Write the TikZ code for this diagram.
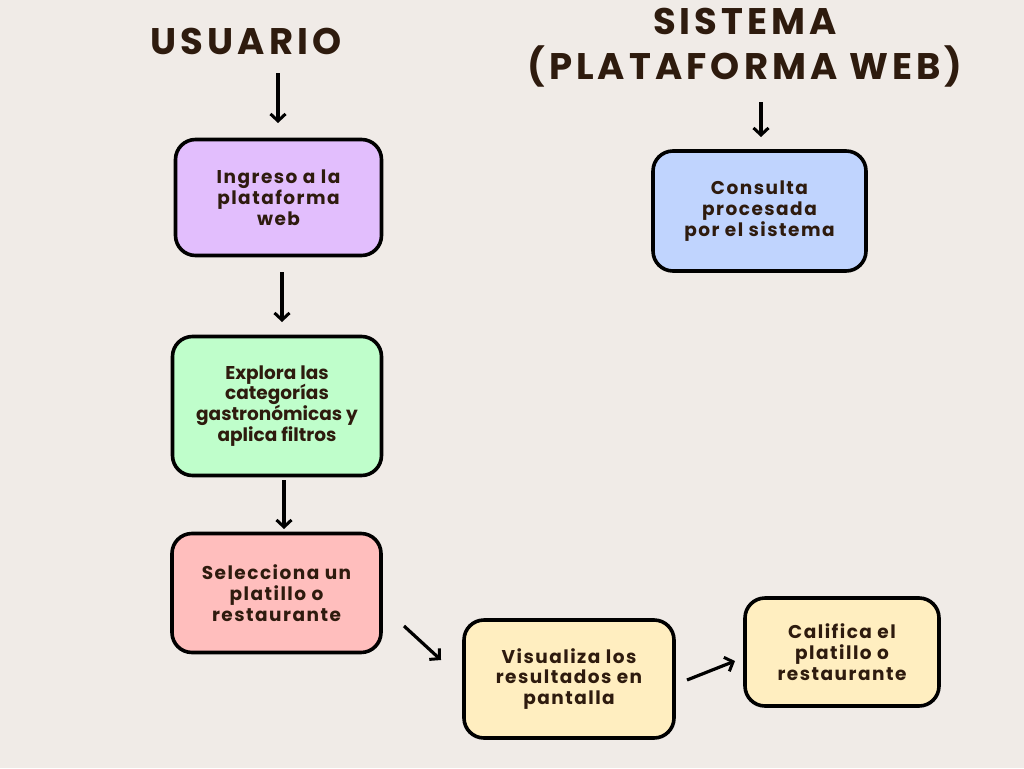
\documentclass[tikz,border=0pt]{standalone}
\usepackage{fontspec}
\setmainfont{Poppins}
\newfontfamily\headfont{Poppins}[LetterSpace=11]
\newfontfamily\boxfont{Poppins}[LetterSpace=8]
\newfontfamily\boxfontn{Poppins}
\usetikzlibrary{arrows.meta}
\definecolor{bgc}{HTML}{F0EBE7}
\definecolor{txt}{HTML}{2E1B0E}
\definecolor{cpur}{HTML}{E2BEFD}
\definecolor{cgrn}{HTML}{BFFECB}
\definecolor{cpnk}{HTML}{FFBEBD}
\definecolor{cyel}{HTML}{FFEEC0}
\definecolor{cblu}{HTML}{C0D4FE}
\tikzset{
  head/.style={text=txt, font=\headfont\bfseries\fontsize{37}{44}\selectfont, align=center, inner sep=0pt},
  box/.style={draw=black, line width=3.6pt, rounded corners=20pt, align=center, text=txt,
    font=\boxfont\bfseries\fontsize{18.5}{20.8}\selectfont, inner sep=0pt},
  arr/.style={line width=3.2pt, -{Straight Barb[length=7pt,width=15pt,line width=3pt]}}
}
\begin{document}
\begin{tikzpicture}[x=1pt,y=-1pt]
\fill[bgc] (0,0) rectangle (1024,768);
\useasboundingbox (0,0) rectangle (1024,768);
% headings
\node[head] (hu) at (246,41) {USUARIO};
\node[head] (hs1) at (745,21) {SISTEMA};
\node[head] (hs2) at (745,66) {(PLATAFORMA WEB)};
% boxes
\node[box, fill=cpur, minimum width=206pt, minimum height=116pt] (b1) at (278.5,197.5) {Ingreso a la\\plataforma\\web};
\node[box, fill=cgrn, minimum width=209pt, minimum height=139pt, font=\boxfontn\bfseries\fontsize{18.5}{20.8}\selectfont] (b2) at (277,406) {Explora las\\categorías\\gastronómicas y\\aplica filtros};
\node[box, fill=cpnk, minimum width=209pt, minimum height=119pt] (b3) at (276.5,593) {Selecciona un\\platillo o\\restaurante};
\node[box, fill=cyel, minimum width=210pt, minimum height=118pt] (b4) at (569,679) {Visualiza los\\resultados en\\pantalla};
\node[box, fill=cyel, minimum width=194pt, minimum height=108pt] (b5) at (842,652) {Califica el\\platillo o\\restaurante};
\node[box, fill=cblu, minimum width=213pt, minimum height=120pt] (b6) at (759.5,211) {Consulta\\procesada\\por el sistema};
% arrow end points
\coordinate (a0s) at (278,73);  \coordinate (a0e) at (278,123);
\coordinate (a1s) at (282,272); \coordinate (a1e) at (282,322);
\coordinate (a2s) at (284,480); \coordinate (a2e) at (284,529);
\coordinate (a3s) at (404,626); \coordinate (a3e) at (441,660);
\coordinate (a4s) at (687,680); \coordinate (a4e) at (735,661);
\coordinate (a6s) at (761,102); \coordinate (a6e) at (761,137);
\draw[arr] (a0s) -- (a0e);
\draw[arr] (a1s) -- (a1e);
\draw[arr] (a2s) -- (a2e);
\draw[arr] (a3s) -- (a3e);
\draw[arr] (a4s) -- (a4e);
\draw[arr] (a6s) -- (a6e);
\end{tikzpicture}
\end{document}
